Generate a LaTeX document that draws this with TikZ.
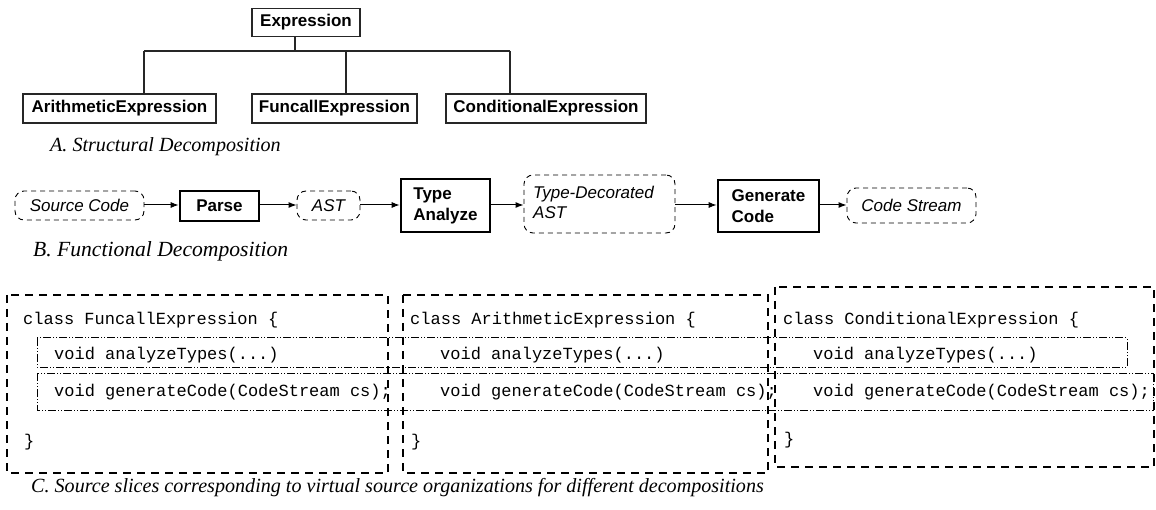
\documentclass[tikz,border=0pt]{standalone}
\usepackage{fontspec}
\setmainfont{Liberation Serif}
\setsansfont{Liberation Sans}
\setmonofont{Liberation Mono}
\usetikzlibrary{arrows.meta}
\begin{document}
\begin{tikzpicture}[x=1pt,y=-1pt,
  sbox/.style={draw=black!85,line width=1.1pt,inner sep=0pt,font=\fontsize{17}{20}\selectfont\sffamily\bfseries},
  proc/.style={draw,line width=2.6pt,inner sep=0pt,align=left,font=\fontsize{17}{21}\selectfont\sffamily\bfseries},
  data/.style={draw,line width=0.9pt,dash pattern=on 5pt off 4pt,rounded corners=9pt,inner sep=0pt,font=\fontsize{17}{20}\selectfont\sffamily\itshape},
  flow/.style={line width=1pt,-{Latex[length=8pt,width=6pt]}},
  link/.style={draw=black!85,line width=1.1pt},
  captext/.style={anchor=west,inner sep=0pt,font=\fontsize{20.1}{23}\selectfont\itshape},
  slice/.style={draw,line width=1.2pt,dash pattern=on 8pt off 6pt},
  part/.style={draw,line width=1pt,dash pattern=on 8pt off 2pt on 1pt off 2pt on 1pt off 2pt},
  code/.style={anchor=west,inner sep=0pt,font=\fontsize{17}{20}\selectfont\ttfamily}
]
\useasboundingbox (0,0) rectangle (1156,510);

% ---------- A ----------
\node[sbox,minimum width=108pt,minimum height=28pt] (ex) at (306,22.5) {Expression};
\node[sbox,minimum width=193pt,minimum height=29pt] (ar) at (119.5,108.5) {ArithmeticExpression};
\node[sbox,minimum width=165pt,minimum height=29pt] (fu) at (334.5,108.5) {FuncallExpression};
\node[sbox,minimum width=200pt,minimum height=29pt] (co) at (546,108.5) {ConditionalExpression};
\coordinate (j) at (295,51);
\coordinate (ja) at (144,51);
\coordinate (jf) at (346,51);
\coordinate (jc) at (510,51);
\draw[link] (ex.south -| j) -- (j);
\draw[link] (ja) -- (jc);
\draw[link] (ja) -- (ja |- ar.north);
\draw[link] (jf) -- (jf |- fu.north);
\draw[link] (jc) -- (jc |- co.north);
\node[captext] (capA) at (50,147) {A. Structural Decomposition};

% ---------- B ----------
\node[data,minimum width=129pt,minimum height=29pt] (src) at (79.5,205.5) {Source Code};
\node[proc,minimum width=79pt,minimum height=30pt] (parse) at (219.5,206) {Parse};
\node[data,minimum width=63pt,minimum height=29pt] (ast) at (328.5,205.5) {AST};
\node[proc,minimum width=89pt,minimum height=53pt] (ta) at (445.5,205.5) {Type\\Analyze};
\node[data,minimum width=151pt,minimum height=58pt] (tda) at (599.5,204) {};
\node[anchor=west,inner sep=0pt,align=left,font=\fontsize{17}{20}\selectfont\sffamily\itshape] (tdat) at (533,202) {Type-Decorated\\AST};
\node[proc,minimum width=101pt,minimum height=52pt] (gc) at (768.5,206) {Generate\\Code};
\node[data,minimum width=129pt,minimum height=35pt] (cs) at (911.5,205.5) {Code Stream};
\draw[flow] (src.east |- 0,205) -- (parse.west |- 0,205);
\draw[flow] (parse.east |- 0,205) -- (ast.west |- 0,205);
\draw[flow] (ast.east |- 0,205) -- (ta.west |- 0,205);
\draw[flow] (ta.east |- 0,205) -- (tda.west |- 0,205);
\draw[flow] (tda.east |- 0,205) -- (gc.west |- 0,205);
\draw[flow] (gc.east |- 0,205) -- (cs.west |- 0,205);
\node[captext,font=\fontsize{21.6}{24}\selectfont\itshape] (capB) at (33,251) {B. Functional Decomposition};

% ---------- C ----------
\draw[part] (37,338) rectangle (1127,367);
\draw[part] (37,373) rectangle (1153,410);
\draw[slice] (7,295) rectangle (388,473);
\draw[slice] (403,295) rectangle (768,473);
\draw[slice] (775,287) rectangle (1154,467);

\node[code] (f1) at (23,320) {class FuncallExpression \{};
\node[code] (f2) at (54,355) {void analyzeTypes(...)};
\node[code] (f3) at (54,392) {void generateCode(CodeStream cs);};
\node[code] (f4) at (24,442) {\}};

\node[code] (a1) at (410,320) {class ArithmeticExpression \{};
\node[code] (a2) at (440,355) {void analyzeTypes(...)};
\node[code] (a3) at (440,392) {void generateCode(CodeStream cs);};
\node[code] (a4) at (411,442) {\}};

\node[code] (c1) at (783,320) {class ConditionalExpression \{};
\node[code] (c2) at (813,355) {void analyzeTypes(...)};
\node[code] (c3) at (813,392) {void generateCode(CodeStream cs);};
\node[code] (c4) at (784,440) {\}};

\node[captext] (capC) at (31,488) {C. Source slices corresponding to virtual source organizations for different decompositions};
\end{tikzpicture}
\end{document}
